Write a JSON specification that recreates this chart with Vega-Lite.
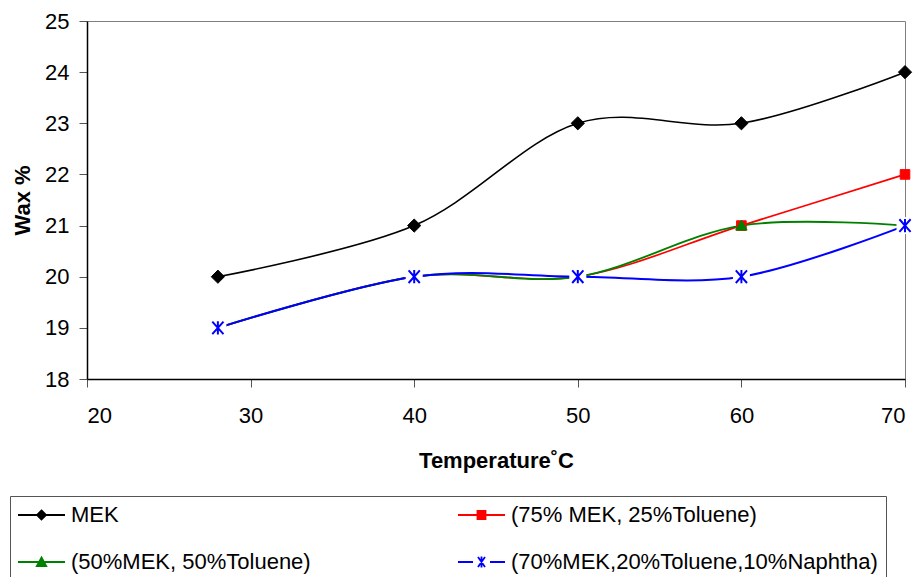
{
  "$schema": "https://vega.github.io/schema/vega-lite/v6.json",
  "width": 818,
  "height": 358,
  "autosize": {"type": "none"},
  "padding": {"left": 87, "top": 21, "right": 15, "bottom": 198},
  "background": "#ffffff",
  "config": {
    "view": {"stroke": "#808080", "strokeWidth": 1},
    "axis": {
      "domainColor": "#000000",
      "domainWidth": 1.5,
      "tickColor": "#555555",
      "tickSize": 8,
      "tickWidth": 1,
      "labelFont": "Liberation Sans",
      "labelFontSize": 22,
      "labelColor": "#000000",
      "titleFont": "Liberation Sans",
      "titleFontSize": 22,
      "titleFontWeight": "bold",
      "titleColor": "#000000",
      "grid": false
    },
    "legend": {
      "title": null,
      "orient": "none",
      "legendX": -77,
      "legendY": 475,
      "direction": "horizontal",
      "columns": 2,
      "columnPadding": 143,
      "rowPadding": 25,
      "padding": 8,
      "strokeColor": "#555555",
      "fillColor": "#ffffff",
      "symbolSize": 400,
      "symbolStrokeWidth": 1.8,
      "labelFont": "Liberation Sans",
      "labelFontSize": 22,
      "labelColor": "#000000",
      "labelOffset": 31,
      "labelLimit": 600
    }
  },
  "data": {
    "values": [
      {"series": "MEK", "temp": 28, "wax": 20},
      {"series": "MEK", "temp": 40, "wax": 21},
      {"series": "MEK", "temp": 50, "wax": 23},
      {"series": "MEK", "temp": 60, "wax": 23},
      {"series": "MEK", "temp": 70, "wax": 24},
      {"series": "(75% MEK, 25%Toluene)", "temp": 28, "wax": 19},
      {"series": "(75% MEK, 25%Toluene)", "temp": 40, "wax": 20},
      {"series": "(75% MEK, 25%Toluene)", "temp": 50, "wax": 20},
      {"series": "(75% MEK, 25%Toluene)", "temp": 60, "wax": 21},
      {"series": "(75% MEK, 25%Toluene)", "temp": 70, "wax": 22},
      {"series": "(50%MEK, 50%Toluene)", "temp": 28, "wax": 19},
      {"series": "(50%MEK, 50%Toluene)", "temp": 40, "wax": 20},
      {"series": "(50%MEK, 50%Toluene)", "temp": 50, "wax": 20},
      {"series": "(50%MEK, 50%Toluene)", "temp": 60, "wax": 21},
      {"series": "(50%MEK, 50%Toluene)", "temp": 70, "wax": 21},
      {"series": "(70%MEK,20%Toluene,10%Naphtha)", "temp": 28, "wax": 19},
      {"series": "(70%MEK,20%Toluene,10%Naphtha)", "temp": 40, "wax": 20},
      {"series": "(70%MEK,20%Toluene,10%Naphtha)", "temp": 50, "wax": 20},
      {"series": "(70%MEK,20%Toluene,10%Naphtha)", "temp": 60, "wax": 20},
      {"series": "(70%MEK,20%Toluene,10%Naphtha)", "temp": 70, "wax": 21}
    ]
  },
  "encoding": {
    "x": {
      "field": "temp",
      "type": "quantitative",
      "scale": {"domain": [20, 70], "nice": false, "zero": false},
      "axis": {"values": [20, 30, 40, 50, 60, 70], "title": "Temperature˚C", "labelPadding": 18, "titlePadding": 24}
    },
    "y": {
      "field": "wax",
      "type": "quantitative",
      "scale": {"domain": [18, 25], "nice": false, "zero": false},
      "axis": {"values": [18, 19, 20, 21, 22, 23, 24, 25], "title": "Wax %", "labelPadding": 10, "titlePadding": 10}
    }
  },
  "layer": [
    {
      "mark": {"type": "line", "interpolate": "cardinal", "tension": 0},
      "encoding": {
        "color": {
          "field": "series",
          "type": "nominal",
          "scale": {
            "domain": ["MEK", "(75% MEK, 25%Toluene)", "(50%MEK, 50%Toluene)", "(70%MEK,20%Toluene,10%Naphtha)"],
            "range": ["#000000", "#FF0000", "#008000", "#0000FF"]
          },
          "legend": null
        },
        "strokeWidth": {
          "field": "series",
          "type": "nominal",
          "scale": {
            "domain": ["MEK", "(75% MEK, 25%Toluene)", "(50%MEK, 50%Toluene)", "(70%MEK,20%Toluene,10%Naphtha)"],
            "range": [1.6, 2, 2, 2.4]
          },
          "legend": null
        }
      }
    },
    {
      "transform": [{"filter": "datum.series !== '(70%MEK,20%Toluene,10%Naphtha)'"}],
      "mark": {"type": "point", "filled": true, "opacity": 1, "strokeWidth": 1},
      "encoding": {
        "fill": {
          "field": "series",
          "type": "nominal",
          "scale": {
            "domain": ["MEK", "(75% MEK, 25%Toluene)", "(50%MEK, 50%Toluene)"],
            "range": ["#000000", "#FF0000", "#008000"]
          },
          "legend": null
        },
        "stroke": {
          "field": "series",
          "type": "nominal",
          "scale": {
            "domain": ["MEK", "(75% MEK, 25%Toluene)", "(50%MEK, 50%Toluene)"],
            "range": ["#000000", "#FF0000", "#008000"]
          },
          "legend": null
        },
        "shape": {
          "field": "series",
          "type": "nominal",
          "scale": {
            "domain": ["MEK", "(75% MEK, 25%Toluene)", "(50%MEK, 50%Toluene)"],
            "range": [
              "M0,-1.1L1.1,0L0,1.1L-1.1,0Z",
              "M-0.8,-0.8H0.8V0.8H-0.8Z",
              "M0,-0.9L0.95,0.75H-0.95Z"
            ]
          },
          "legend": null
        },
        "size": {"value": 144}
      }
    },
    {
      "transform": [{"filter": "datum.series === '(70%MEK,20%Toluene,10%Naphtha)'"}],
      "mark": {"type": "point", "filled": true, "fill": "#ffffff", "shape": "square", "size": 289, "opacity": 1}
    },
    {
      "transform": [{"filter": "datum.series === '(70%MEK,20%Toluene,10%Naphtha)'"}],
      "mark": {
        "type": "point",
        "filled": false,
        "stroke": "#0000FF",
        "strokeWidth": 2,
        "opacity": 1,
        "size": 196,
        "shape": "M-0.8,-0.9L0.8,0.9M0.8,-0.9L-0.8,0.9M0,-0.95V0.95"
      }
    },
    {
      "transform": [{"filter": "false"}],
      "mark": {"type": "point", "filled": true, "opacity": 1, "strokeWidth": 1.8},
      "encoding": {
        "fill": {
          "field": "series",
          "type": "nominal",
          "scale": {
            "domain": ["MEK", "(75% MEK, 25%Toluene)", "(50%MEK, 50%Toluene)", "(70%MEK,20%Toluene,10%Naphtha)"],
            "range": ["#000000", "#FF0000", "#008000", "#0000FF"]
          },
          "legend": {}
        },
        "stroke": {
          "field": "series",
          "type": "nominal",
          "scale": {
            "domain": ["MEK", "(75% MEK, 25%Toluene)", "(50%MEK, 50%Toluene)", "(70%MEK,20%Toluene,10%Naphtha)"],
            "range": ["#000000", "#FF0000", "#008000", "#0000FF"]
          },
          "legend": {}
        },
        "shape": {
          "field": "series",
          "type": "nominal",
          "scale": {
            "domain": ["MEK", "(75% MEK, 25%Toluene)", "(50%MEK, 50%Toluene)", "(70%MEK,20%Toluene,10%Naphtha)"],
            "range": [
              "M-1.1,0H3.6M1.25,-0.45L1.7,0L1.25,0.45L0.8,0Z",
              "M-1.1,0H3.6M0.85,-0.4H1.65V0.4H0.85Z",
              "M-1.1,0H3.6M1.25,-0.45L1.72,0.4H0.78Z",
              "M-1.1,0H0.4M2.1,0H3.6M0.9,-0.5L1.6,0.5M1.6,-0.5L0.9,0.5M1.25,-0.55V0.55"
            ]
          },
          "legend": {}
        }
      }
    }
  ],
  "resolve": {
    "scale": {"shape": "independent", "fill": "independent", "stroke": "independent", "color": "independent", "strokeWidth": "independent"}
  }
}
